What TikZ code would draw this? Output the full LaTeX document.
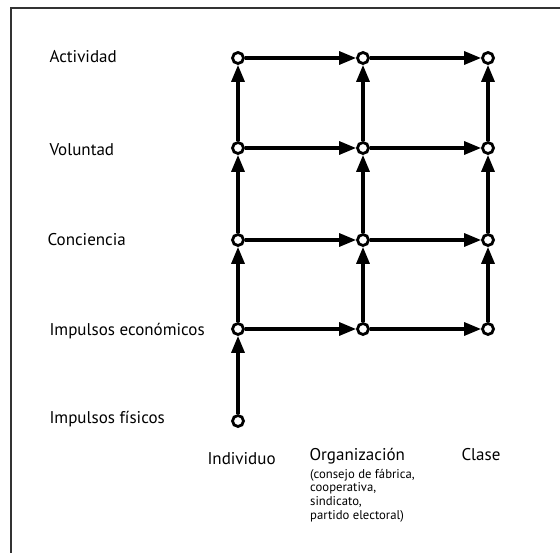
\documentclass[tikz,border=0pt]{standalone}
\usepackage{fontspec}
\setmainfont{PT Sans}
\usetikzlibrary{arrows.meta}

\begin{document}
\begin{tikzpicture}[x=1pt,y=-1pt,
    punto/.style={circle, draw, line width=2.8pt, minimum size=11pt, inner sep=0pt, fill=white},
    flecha/.style={line width=3.2pt, -{Triangle[length=17pt,width=13pt]}},
    nivel/.style={anchor=west, font=\fontsize{17}{19}\selectfont},
    grupo/.style={anchor=west, font=\fontsize{17}{19}\selectfont}]
    \useasboundingbox (0,0) rectangle (560,553);
    \draw[line width=1.6pt, black!80] (560,8) -- (11,8) -- (11,553);
    % niveles
    \node[nivel] (act) at (46,57) {Actividad};
    \node[nivel] (vol) at (46,150) {Voluntad};
    \node[nivel] (con) at (44,240) {Conciencia};
    \node[nivel] (eco) at (46,331) {Impulsos económicos};
    \node[nivel] (fis) at (46,419) {Impulsos físicos};
    % puntos
    \node[punto] (ind-act) at (238,58) {};
    \node[punto] (org-act) at (363,58) {};
    \node[punto] (cla-act) at (488,58) {};
    \node[punto] (ind-vol) at (238,148) {};
    \node[punto] (org-vol) at (363,148) {};
    \node[punto] (cla-vol) at (488,148) {};
    \node[punto] (ind-con) at (238,240) {};
    \node[punto] (org-con) at (363,240) {};
    \node[punto] (cla-con) at (488,240) {};
    \node[punto] (ind-eco) at (238,329) {};
    \node[punto] (org-eco) at (363,329) {};
    \node[punto] (cla-eco) at (488,329) {};
    \node[punto] (ind-fis) at (238,421) {};
    % flechas
    \draw[flecha] (ind-fis) -- (ind-eco);
    \foreach \c in {ind,org,cla}{
        \draw[flecha] (\c-eco) -- (\c-con);
        \draw[flecha] (\c-con) -- (\c-vol);
        \draw[flecha] (\c-vol) -- (\c-act);
    }
    \foreach \f in {act,vol,con,eco}{
        \draw[flecha] (ind-\f) -- (org-\f);
        \draw[flecha] (org-\f) -- (cla-\f);
    }
    % grupos
    \node[grupo] (ind) at (204,459) {Individuo};
    \node[grupo] (org) at (306,456) {Organización};
    \node[grupo] (cla) at (458,455) {Clase};
    \node[anchor=north west, align=left, inner sep=0pt,
          font=\fontsize{12.7}{13.6}\selectfont] (det) at (310,469)
          {(consejo de fábrica,\\cooperativa,\\sindicato,\\partido electoral)};
\end{tikzpicture}
\end{document}
